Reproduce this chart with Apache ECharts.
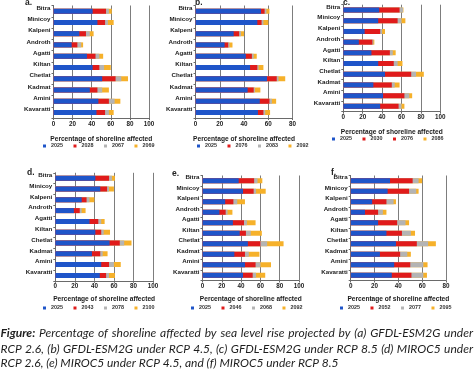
<!DOCTYPE html>
<html><head><meta charset="utf-8">
<script src="https://cdn.jsdelivr.net/npm/echarts@6/dist/echarts.min.js"></script>
<style>html,body{margin:0;padding:0;background:#fff}#c{width:474px;height:384px}</style>
</head><body><div id="c"></div>
<script>
// ---- DATA ----
const islands = ['Bitra','Minicoy','Kalpeni','Androth','Agatti','Kiltan','Chetlat','Kadmat','Amini','Kavaratti'];
const xTicksFull = [0, 20, 40, 60, 80, 100];
const xTicksShort = [0, 20, 40, 60, 80];

// (a) GFDL-ESM2G RCP 2.6
const yearsA = ['2025','2028','2067','2069'];
const a2025 = [41, 46, 27, 19, 35, 41, 51, 38, 47, 45];
const a2028 = [55, 54, 34, 25, 44, 48, 65, 46, 58, 54];
const a2067 = [58, 57, 38, 29, 48, 53, 71, 51, 64, 58];
const a2069 = [61, 63, 42, 31, 52, 60, 78, 58, 70, 63];
// (b) GFDL-ESM2G RCP 4.5
const yearsB = ['2025','2076','2083','2092'];
const b2025 = [54, 51, 31.5, 24, 41.5, 45, 59, 43, 53, 51.5];
const b2076 = [57, 54.5, 36, 27, 46.5, 51, 67, 48, 61, 56];
const b2083 = [58.5, 56, 37.5, 28, 48, 52, 68.5, 49, 63, 57.5];
const b2092 = [61, 60, 40, 30.5, 50.5, 56, 74, 53.5, 66.5, 61.5];
// (c) GFDL-ESM2G RCP 8.5
const yearsC = ['2025','2030','2076','2086'];
const c2025 = [37, 36, 22, 16, 29, 36, 43, 31, 41, 38];
const c2030 = [58, 56, 38, 30, 48, 52, 70, 50, 63, 57];
const c2076 = [61.5, 60, 40, 31, 51, 56, 75, 53, 68, 60];
const c2086 = [62, 64, 43, 32, 54, 61, 83, 58, 71, 63];
// (d) MIROC5 RCP 2.6
const yearsD = ['2025','2043','2078','2100'];
const d2025 = [41, 46, 27, 19, 35, 41, 55.5, 37.5, 47, 45.5];
const d2043 = [55, 53, 32, 25, 44, 47, 66, 46, 55, 52];
const d2078 = [58, 55, 35, 27, 47, 49.5, 70.5, 48.5, 60, 55];
const d2100 = [61, 60, 40, 31, 50.5, 56, 78, 53.5, 67, 61];
// (e) MIROC5 RCP 4.5
const yearsE = ['2025','2046','2068','2092'];
const e2025 = [37.5, 42, 23.5, 17.5, 31.5, 38.5, 47, 33, 44, 42];
const e2046 = [53.5, 53, 32, 24, 43, 45, 60, 44, 55, 52];
const e2068 = [57, 55.5, 36, 26, 46, 50, 67, 48, 60, 55.5];
const e2092 = [62, 65.5, 44, 31, 55, 61.5, 84, 59, 71, 65];
// (f) MIROC5 RCP 8.5
const yearsF = ['2025','2052','2077','2095'];
const f2025 = [33, 31, 18, 12, 23, 30, 38, 24.5, 36.5, 34.5];
const f2052 = [52, 49, 30, 23, 39, 43, 55.5, 41.5, 50, 51];
const f2077 = [57, 55, 36, 27, 46, 50.5, 65, 47.5, 61, 61];
const f2095 = [60, 57, 38, 30, 49, 54, 71.5, 50.5, 64.5, 64];

const axisTitle = 'Percentage of shoreline affected';
const captionLines = [
  ['Figure:', 'Percentage of shoreline affected by sea level rise projected by (a) GFDL-ESM2G under'],
  ['', 'RCP 2.6, (b) GFDL-ESM2G under RCP 4.5, (c) GFDL-ESM2G under RCP 8.5 (d) MIROC5 under'],
  ['', 'RCP 2.6, (e) MIROC5 under RCP 4.5, and (f) MIROC5 under RCP 8.5']
];

// ---- STYLE / LAYOUT ----
const colors = ['#1f55c9', '#e01b1b', '#b4b4b4', '#f6b12a'];
const FF = "'Liberation Sans', Arial, sans-serif";
const panels = [
  {letter:'a.', years:yearsA, vals:[a2025,a2028,a2067,a2069], ticks:xTicksFull,
   grid:{left:53.5, top:5.5, width:95.5, height:112.5}, nameGap:18, labelMargin:3.5, legend:{left:43, top:143.5}, lp:[25,3]},
  {letter:'b.', years:yearsB, vals:[b2025,b2076,b2083,b2092], ticks:xTicksShort,
   grid:{left:195.5, top:5.5, width:97, height:112.5}, nameGap:18, labelMargin:3.5, legend:{left:197, top:143.5}, lp:[195,3]},
  {letter:'c.', years:yearsC, vals:[c2025,c2030,c2076,c2086], ticks:xTicksFull,
   grid:{left:343.3, top:4.7, width:97, height:107}, nameGap:16.5, labelMargin:2.5, legend:{left:332, top:136.5}, lp:[343,3]},
  {letter:'d.', years:yearsD, vals:[d2025,d2043,d2078,d2100], ticks:xTicksFull,
   grid:{left:55.3, top:172.8, width:97.7, height:108}, nameGap:15, labelMargin:2.5, legend:{left:43, top:305.5}, lp:[27,173]},
  {letter:'e.', years:yearsE, vals:[e2025,e2046,e2068,e2092], ticks:xTicksFull,
   grid:{left:202.5, top:175.5, width:96.5, height:105}, nameGap:15, labelMargin:2.5, legend:{left:191, top:305.5}, lp:[172,174]},
  {letter:'f.', years:yearsF, vals:[f2025,f2052,f2077,f2095], ticks:xTicksShort,
   grid:{left:350.7, top:175.5, width:95.3, height:105}, nameGap:15, labelMargin:2.5, legend:{left:340, top:305.5}, lp:[331,173]}
];

const chart = echarts.init(document.getElementById('c'), null, {renderer:'canvas'});

const grids = [], xAxes = [], yAxes = [], series = [], legends = [], graphics = [];
panels.forEach((p, i) => {
  grids.push(Object.assign({containLabel:false}, p.grid));
  const max = p.ticks[p.ticks.length - 1];
  const interval = p.ticks[1] - p.ticks[0];
  xAxes.push({
    gridIndex:i, type:'value', min:p.ticks[0], max:max, interval:interval,
    axisLine:{show:true, lineStyle:{color:'#6a6a6a', width:1}},
    axisTick:{show:true, length:2, lineStyle:{color:'#6a6a6a'}},
    axisLabel:{fontSize:6.3, margin:p.labelMargin, color:'#222', fontWeight:'bold', fontFamily:FF},
    splitLine:{show:true, lineStyle:{color:'#7d7d7d', width:1}},
    name:axisTitle, nameLocation:'middle', nameGap:p.nameGap,
    nameTextStyle:{fontSize:6.6, fontWeight:'bold', color:'#1a1a1a', fontFamily:FF}
  });
  yAxes.push({
    gridIndex:i, type:'category', data:islands, inverse:true,
    axisLine:{show:true, lineStyle:{color:'#6a6a6a', width:1}},
    axisTick:{show:true, length:2, lineStyle:{color:'#6a6a6a'}},
    axisLabel:{fontSize:6.2, fontWeight:'bold', color:'#1a1a1a', margin:3, verticalAlign:'bottom', fontFamily:FF},
    splitLine:{show:false}
  });
  for (let k = 3; k >= 0; k--) {
    series.push({
      type:'bar', name:p.years[k], xAxisIndex:i, yAxisIndex:i,
      data:p.vals[k], barWidth:5, barGap:'-100%',
      itemStyle:{color:colors[k]}, silent:true
    });
  }
  legends.push({
    data:p.years.map(y => ({name:y, icon:'rect'})),
    left:p.legend.left, top:p.legend.top, padding:0,
    itemWidth:3, itemHeight:3, itemGap:10.5, selectedMode:false,
    textStyle:{fontSize:5.4, width:10, color:'#333', fontWeight:'bold', fontFamily:FF}
  });
  graphics.push({type:'text', x:p.lp[0], y:p.lp[1], style:{text:p.letter, font:"bold 8.5px 'Liberation Sans', sans-serif", fill:'#222', verticalAlign:'middle'}});
});

// caption (justified lines); font size chosen so that the first line fits the width
const cv = document.createElement('canvas').getContext('2d');
const capX0 = 0.5, capX1 = 473;
function lineWidth(ln, size) {
  let w = 0;
  if (ln[0]) { cv.font = 'italic bold ' + size + 'px Lato'; w += cv.measureText(ln[0] + ' ').width; }
  cv.font = 'italic ' + size + 'px Lato';
  w += cv.measureText(ln[1]).width;
  return w;
}
const capSize = Math.min(13, 13 * (capX1 - capX0 - 8) / Math.max(lineWidth(captionLines[0], 13), lineWidth(captionLines[1], 13)));
const fontReg = 'italic ' + capSize + 'px Lato';
const fontBold = 'italic bold ' + capSize + 'px Lato';
const capY = [333, 349, 363];
captionLines.forEach((ln, li) => {
  const words = [];
  if (ln[0]) words.push({t:ln[0], f:fontBold});
  ln[1].split(' ').forEach(w => words.push({t:w, f:fontReg}));
  words.forEach(w => { cv.font = w.f; w.w = cv.measureText(w.t).width; });
  const total = words.reduce((s, w) => s + w.w, 0);
  cv.font = fontReg;
  const spaceW = cv.measureText(' ').width;
  const justify = li < captionLines.length - 1;
  const gap = justify ? (capX1 - capX0 - total) / (words.length - 1) : spaceW;
  let x = capX0;
  words.forEach(w => {
    graphics.push({type:'text', x:x, y:capY[li], style:{text:w.t, font:w.f, fill:'#1e1e1e', verticalAlign:'middle'}});
    x += w.w + gap;
  });
});

chart.setOption({
  backgroundColor:'#ffffff',
  animation:false,
  grid:grids, xAxis:xAxes, yAxis:yAxes, series:series, legend:legends,
  graphic:graphics
});
</script></body></html>
